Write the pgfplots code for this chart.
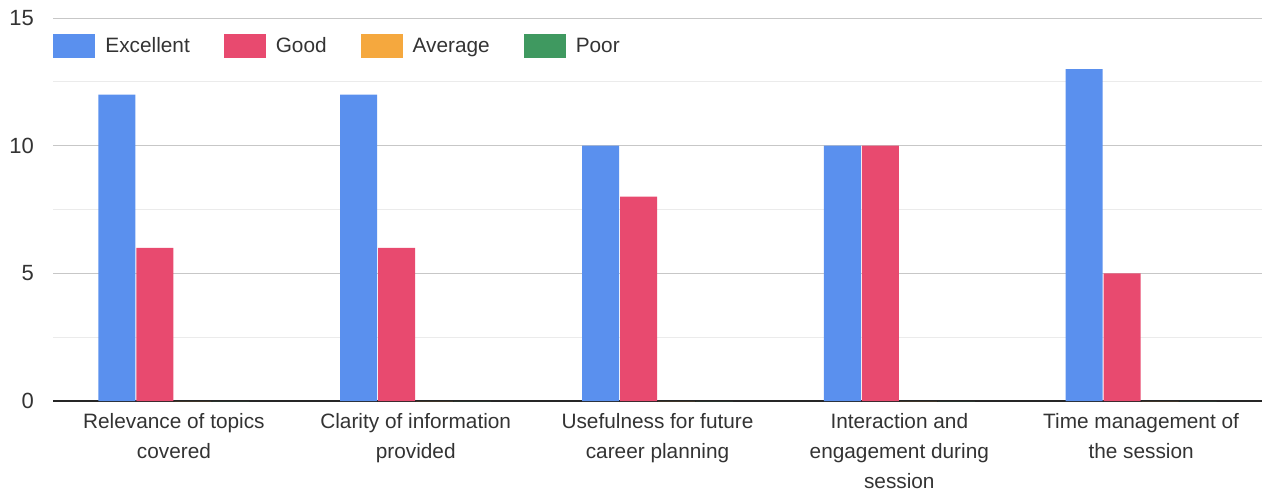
\documentclass[border=0pt]{standalone}
\usepackage{pgfplots}
\pgfplotsset{compat=1.18}
\usepackage{fontspec}
\setmainfont{Liberation Sans}
\definecolor{cExc}{HTML}{5A90EE}
\definecolor{cGood}{HTML}{E84A6F}
\definecolor{cAvg}{HTML}{F5A83E}
\definecolor{cPoor}{HTML}{3F9960}
\definecolor{txt}{HTML}{333333}
\begin{document}
\begin{tikzpicture}
\useasboundingbox (-26.5pt,-46pt) rectangle (609.5pt,200.5pt);
\begin{axis}[
  at={(0,0)}, anchor=south west,
  scale only axis, width=604.5pt, height=191.5pt,
  ybar=0.5pt, bar width=18.5pt,
  xmin=-0.5, xmax=4.5, ymin=0, ymax=15,
  xtick={0,1,2,3,4},
  xticklabels={{Relevance of topics\\covered},{Clarity of information\\provided},{Usefulness for future\\career planning},{Interaction and\\engagement during\\session},{Time management of\\the session}},
  xtick style={draw=none},
  ytick={0,5,10,15}, minor ytick={2.5,7.5,12.5},
  major tick length=0pt, minor tick length=0pt,
  ymajorgrids, yminorgrids,
  major grid style={black!22, line width=0.5pt},
  minor grid style={black!8, line width=0.5pt},
  axis x line*=bottom, axis y line*=left,
  y axis line style={draw=none},
  x axis line style={black!85, line width=1.1pt},
  /pgf/number format/assume math mode=true,
  xticklabel style={font=\fontsize{10.4}{15}\selectfont, align=center, text=txt, yshift=-2.5pt},
  yticklabel style={font=\fontsize{11}{14}\selectfont, text=txt, xshift=-6pt},
  legend columns=4,
  legend style={at={(axis description cs:0,1)}, anchor=north west, yshift=-7.5pt,
    draw=none, fill=none, inner sep=0pt, font=\fontsize{10.4}{14}\selectfont, text=txt,
    /tikz/every odd column/.append style={column sep=3pt},
    /tikz/every even column/.append style={column sep=15pt}},
  legend image code/.code={\fill (0pt,-6pt) rectangle (21pt,6pt);},
]
\addplot[fill=cExc, draw=none] coordinates {(0,12) (1,12) (2,10) (3,10) (4,13)};
\addplot[fill=cGood, draw=none] coordinates {(0,6) (1,6) (2,8) (3,10) (4,5)};
\addplot[fill=cAvg, draw=none] coordinates {(0,0) (1,0) (2,0) (3,0) (4,0)};
\addplot[fill=cPoor, draw=none] coordinates {(0,0) (1,0) (2,0) (3,0) (4,0)};
\legend{Excellent,Good,Average,Poor}
\end{axis}
\end{tikzpicture}
\end{document}
